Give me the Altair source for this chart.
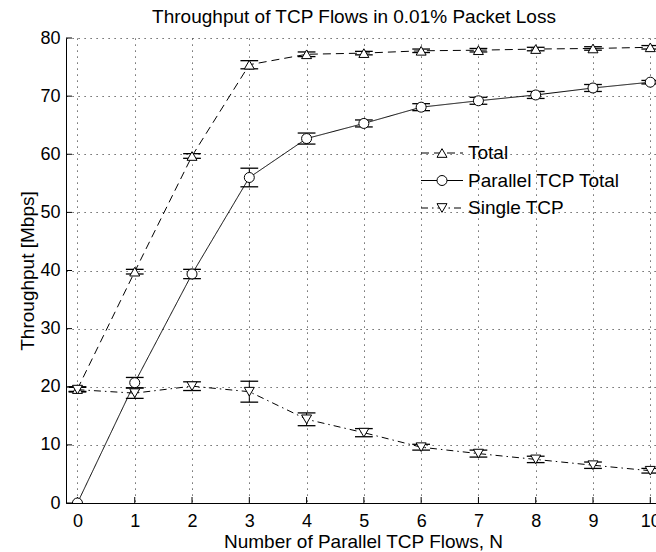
import altair as alt
import pandas as pd

# Number of parallel TCP flows on the x axis
flows = [0, 1, 2, 3, 4, 5, 6, 7, 8, 9, 10]

# Throughput (Mbps) and half-width of the error bars for each series
total = [19.6, 39.8, 59.7, 75.4, 77.2, 77.4, 77.8, 77.9, 78.1, 78.2, 78.4]
total_err = [0.4, 0.4, 0.4, 0.7, 0.4, 0.3, 0.3, 0.3, 0.3, 0.3, 0.3]
parallel = [0.0, 20.7, 39.4, 56.0, 62.7, 65.3, 68.1, 69.2, 70.2, 71.4, 72.4]
parallel_err = [0.0, 0.9, 0.8, 1.6, 0.95, 0.6, 0.6, 0.6, 0.6, 0.6, 0.3]
single = [19.5, 18.9, 20.1, 19.15, 14.4, 12.1, 9.6, 8.5, 7.5, 6.5, 5.55]
single_err = [0.4, 0.9, 0.75, 1.8, 1.1, 0.7, 0.5, 0.6, 0.55, 0.55, 0.4]

series_names = ["Total", "Parallel TCP Total", "Single TCP"]
series_shapes = ["triangle-up", "circle", "triangle-down"]
series_dashes = [[8, 5], [1, 0], [7, 4, 1.5, 4]]

x_ticks = list(range(11))
y_ticks = [0, 10, 20, 30, 40, 50, 60, 70, 80]

chart_title = "Throughput of TCP Flows in 0.01% Packet Loss"

FONT = "Liberation Sans"
W, H = 590, 465

rows = []
for name, vals, errs in zip(series_names, [total, parallel, single],
                            [total_err, parallel_err, single_err]):
    for n, v, e in zip(flows, vals, errs):
        rows.append({"series": name, "N": n, "value": v, "err": e})
df = pd.DataFrame(rows)
df["lo"] = df["value"] - df["err"]
df["hi"] = df["value"] + df["err"]

x_scale = alt.Scale(domain=[-0.2, 10.1], nice=False, zero=False)
y_scale = alt.Scale(domain=[0, 80], nice=False, zero=False)

x_axis = alt.Axis(values=x_ticks, title="Number of Parallel TCP Flows, N",
                  labelPadding=23, labelBaseline="alphabetic",
                  titleX=297, titleY=44, titleAlign="center",
                  titleBaseline="alphabetic", titleAnchor="middle")
y_axis = alt.Axis(values=y_ticks, title="Throughput [Mbps]",
                  labelPadding=6, labelBaseline="middle",
                  titleX=-33, titleY=H / 2, titleAngle=270,
                  titleAlign="center", titleBaseline="alphabetic")


def X(field):
    return alt.X(f"{field}:Q", scale=x_scale, axis=x_axis)


def Y(field):
    return alt.Y(f"{field}:Q", scale=y_scale, axis=y_axis)


base = alt.Chart(df)
dash = alt.StrokeDash("series:N",
                      scale=alt.Scale(domain=series_names, range=series_dashes),
                      legend=None)
shape = alt.Shape("series:N",
                  scale=alt.Scale(domain=series_names, range=series_shapes),
                  legend=None)

lines = base.mark_line(color="black", strokeWidth=1, clip=True).encode(
    x=X("N"), y=Y("value"), strokeDash=dash, order="N:Q")

bars = base.transform_filter("datum.err > 0").transform_calculate(
    c0="datum.N - 0.155", c1="datum.N + 0.155")
err_v = bars.mark_rule(color="black", strokeWidth=1, clip=True).encode(
    x=X("N"), y=Y("lo"), y2="hi:Q")
cap_lo = bars.mark_rule(color="black", strokeWidth=1.3, clip=True).encode(
    x=X("c0"), x2="c1:Q", y=Y("lo"))
cap_hi = bars.mark_rule(color="black", strokeWidth=1.3, clip=True).encode(
    x=X("c0"), x2="c1:Q", y=Y("hi"))

points = base.mark_point(filled=True, fill="white", stroke="black",
                         strokeWidth=1, size=100, opacity=1, clip=True).encode(
    x=X("N"), y=Y("value"), shape=shape)

# Inward-pointing ticks on both axes
xt = alt.Chart(pd.DataFrame({"N": x_ticks})).mark_rule(
    color="black", strokeWidth=1).encode(
    x=X("N"), y=alt.value(H), y2=alt.value(H - 6))
yt = alt.Chart(pd.DataFrame({"value": y_ticks})).mark_rule(
    color="black", strokeWidth=1).encode(
    y=Y("value"), x=alt.value(0), x2=alt.value(6))

# Chart heading placed above the plot area
heading = alt.Chart(pd.DataFrame({"t": [chart_title]})).mark_text(
    align="center", baseline="alphabetic", font=FONT, fontSize=19,
    color="black").encode(x=alt.value(288), y=alt.value(-15), text="t:N")

# Legend drawn inside the plot area
legend_layers = []
for i, (name, shp, dsh) in enumerate(zip(series_names, series_shapes, series_dashes)):
    ly = 115 + i * 27.5
    ldf = pd.DataFrame({"series": [name]})
    legend_layers.append(alt.Chart(ldf).mark_rule(
        color="black", strokeWidth=1, strokeDash=dsh).encode(
        x=alt.value(355), x2=alt.value(397), y=alt.value(ly)))
    legend_layers.append(alt.Chart(ldf).mark_point(
        shape=shp, size=100, filled=True, fill="white", stroke="black",
        strokeWidth=1, opacity=1).encode(x=alt.value(376), y=alt.value(ly)))
    legend_layers.append(alt.Chart(ldf).mark_text(
        align="left", baseline="middle", font=FONT, fontSize=19,
        color="black").encode(x=alt.value(402), y=alt.value(ly),
                              text="series:N"))

chart = alt.layer(
    xt, yt, lines, err_v, cap_lo, cap_hi, points, heading, *legend_layers
).properties(
    width=W, height=H,
    padding={"left": 66, "top": 38, "right": 0, "bottom": 49},
    autosize=alt.AutoSizeParams(type="none"),
).configure_view(
    stroke=None
).configure_axis(
    domainColor="black", domainWidth=1, ticks=False, tickSize=0,
    labelFont=FONT, labelFontSize=18, labelColor="black",
    titleFont=FONT, titleFontSize=19, titleFontWeight="normal",
    titleColor="black", grid=True, gridColor="#000000",
    gridDash=[1.2, 4.8], gridWidth=1, gridOpacity=0.75,
)

chart.save("out.html", embed_options={"renderer": "svg", "actions": False})
